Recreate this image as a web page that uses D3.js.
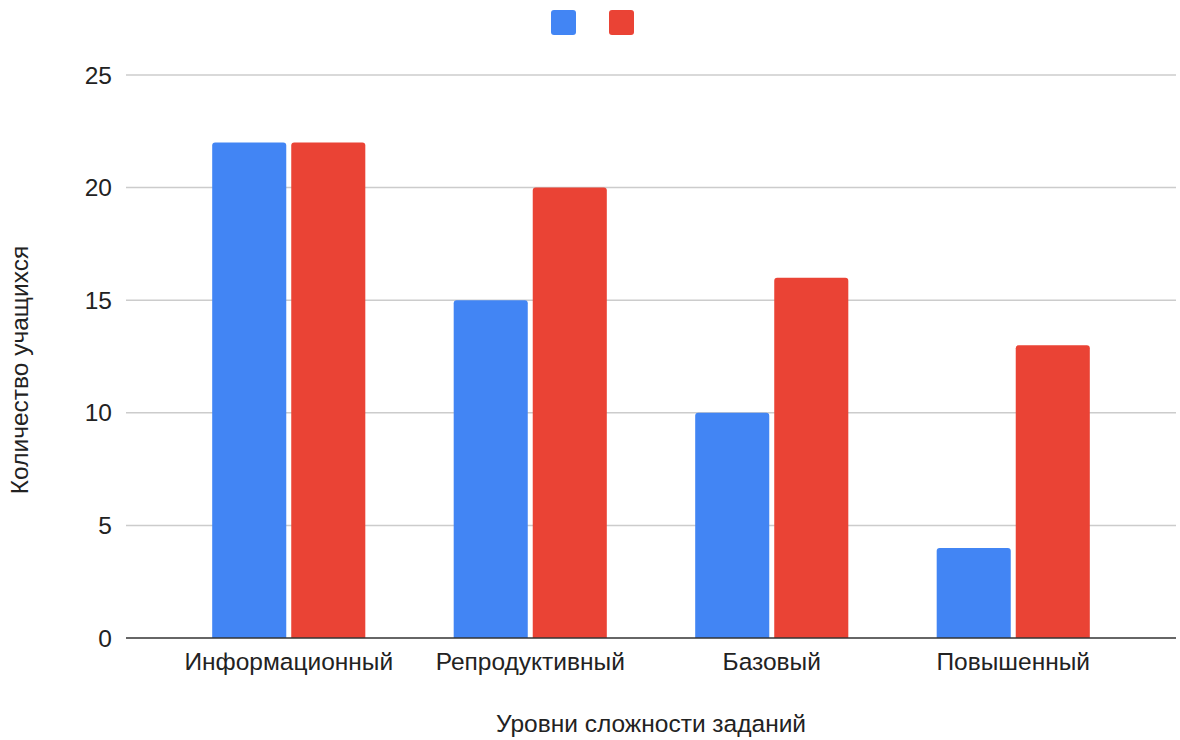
<!DOCTYPE html>
<html>
<head>
<meta charset="utf-8">
<script src="https://cdn.jsdelivr.net/npm/d3@7/dist/d3.min.js"></script>
<style>
  html, body { margin: 0; padding: 0; background: #fff; }
  svg { display: block; font-family: Arial, "Liberation Sans", sans-serif; }
</style>
</head>
<body>
<svg id="chart" width="1180" height="740"></svg>
<script>
// Task difficulty levels and number of students per series
const categories = ["Информационный", "Репродуктивный", "Базовый", "Повышенный"];
const seriesA = [22, 15, 10, 4];
const seriesB = [22, 20, 16, 13];
const seriesColors = ["#4285F4", "#EA4335"];
const yTicks = [0, 5, 10, 15, 20, 25];
const xTitle = "Уровни сложности заданий";
const yTitle = "Количество учащихся";

const svg = d3.select("#chart");
const plot = { left: 126, right: 1176, top: 75, bottom: 638 };
const fontSize = 24.5;

const x0 = d3.scaleBand()
  .domain(categories)
  .range([168, 1134])
  .paddingInner(0.366)
  .paddingOuter(0.183);

const x1 = d3.scaleBand()
  .domain([0, 1])
  .range([0, x0.bandwidth()])
  .paddingInner(0.063);

const y = d3.scaleLinear().domain([0, 25]).range([plot.bottom, plot.top]);

// Gridlines
svg.append("g")
  .selectAll("line")
  .data(yTicks.filter(t => t !== 0))
  .join("line")
  .attr("x1", plot.left).attr("x2", plot.right)
  .attr("y1", d => y(d)).attr("y2", d => y(d))
  .attr("stroke", "#cccccc").attr("stroke-width", 1.5);

// Y tick labels
svg.append("g")
  .selectAll("text")
  .data(yTicks)
  .join("text")
  .attr("x", 112)
  .attr("y", d => y(d))
  .attr("dy", "0.35em")
  .attr("text-anchor", "end")
  .attr("font-size", fontSize)
  .attr("fill", "#222")
  .text(d => d);

// Bars with slightly rounded top corners
function topRoundedRect(x, yTop, w, h, r) {
  r = Math.min(r, h, w / 2);
  return `M${x},${yTop + h}V${yTop + r}Q${x},${yTop} ${x + r},${yTop}H${x + w - r}Q${x + w},${yTop} ${x + w},${yTop + r}V${yTop + h}Z`;
}

const series = [seriesA, seriesB];
const groups = svg.append("g")
  .selectAll("g")
  .data(categories)
  .join("g")
  .attr("transform", d => `translate(${x0(d)},0)`);

groups.selectAll("path")
  .data((d, i) => series.map((s, k) => ({ k, v: s[i] })))
  .join("path")
  .attr("d", d => topRoundedRect(x1(d.k), y(d.v), x1.bandwidth(), y(0) - y(d.v), 3))
  .attr("fill", d => seriesColors[d.k]);

// Baseline
svg.append("line")
  .attr("x1", plot.left).attr("x2", plot.right)
  .attr("y1", y(0)).attr("y2", y(0))
  .attr("stroke", "#333").attr("stroke-width", 1.5);

// Category labels
svg.append("g")
  .selectAll("text")
  .data(categories)
  .join("text")
  .attr("x", d => x0(d) + x0.bandwidth() / 2)
  .attr("y", 670)
  .attr("text-anchor", "middle")
  .attr("font-size", fontSize)
  .attr("fill", "#222")
  .text(d => d);

// Axis titles
svg.append("text")
  .attr("x", 651).attr("y", 732)
  .attr("text-anchor", "middle")
  .attr("font-size", fontSize)
  .attr("fill", "#222")
  .text(xTitle);

svg.append("text")
  .attr("transform", `translate(28,${370}) rotate(-90)`)
  .attr("text-anchor", "middle")
  .attr("font-size", fontSize)
  .attr("fill", "#222")
  .text(yTitle);

// Legend swatches
svg.append("g")
  .selectAll("rect")
  .data(seriesColors)
  .join("rect")
  .attr("x", (d, i) => 551 + i * 58)
  .attr("y", 10)
  .attr("width", 25).attr("height", 25)
  .attr("rx", 3)
  .attr("fill", d => d);
</script>
</body>
</html>
